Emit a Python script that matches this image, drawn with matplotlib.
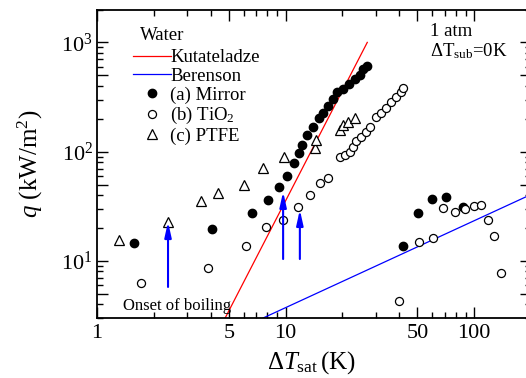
import matplotlib
matplotlib.use("Agg")
import matplotlib.pyplot as plt
from matplotlib.ticker import FixedLocator, FixedFormatter, LogLocator, NullFormatter

plt.rcParams['font.family'] = ['Liberation Serif', 'DejaVu Serif']
plt.rcParams['mathtext.fontset'] = 'custom'
plt.rcParams['mathtext.rm'] = 'Liberation Serif'
plt.rcParams['mathtext.it'] = 'Liberation Serif:italic'
plt.rcParams['mathtext.bf'] = 'Liberation Serif:bold'

# ---- data ----
mirror_dT = [1.57, 4.07, 6.64, 8.08, 9.24, 10.2, 11.1, 11.8, 12.2, 13.0, 14.0, 15.1, 15.8,
             16.8, 17.9, 18.8, 20.2, 21.7, 23.4, 24.9, 25.8, 27.1,
             42.0, 50.5, 59.8, 71.0, 87.5]
mirror_q = [14.6, 19.7, 27.5, 36.3, 47.7, 60.3, 79.0, 98.0, 116, 143, 169, 205, 228,
            264, 306, 348, 371, 412, 458, 508, 565, 603,
            13.7, 27.5, 37.0, 38.6, 31.3]

tio2_dT = [1.71, 3.88, 6.17, 7.88, 9.7, 11.65, 13.5, 15.2, 16.8, 19.5, 20.7, 22.0, 22.8,
           23.7, 25.2, 26.7, 28.1, 30.2, 32.1, 34.1, 36.3, 38.6, 41.0, 42.0,
           40.0, 51.0, 60.6, 68.5, 79.3, 89.6, 100, 108, 119, 128, 139]
tio2_q = [6.3, 8.6, 13.7, 20.5, 23.8, 31.3, 40.3, 52.0, 57.7, 90, 94, 100, 111,
          124, 137, 152, 169, 209, 228, 253, 282, 313, 348, 386,
          4.3, 14.9, 16.3, 30.6, 28.2, 30.0, 32.0, 32.7, 23.8, 16.9, 7.8]

ptfe_dT = [1.31, 2.38, 3.56, 4.38, 6.03, 7.6, 9.8, 14.3, 14.5, 19.5, 20.2, 21.5, 23.4]
ptfe_q = [15.6, 22.8, 35.5, 42.0, 49.8, 71.0, 90.0, 109, 129, 159, 177, 188, 205]

kut_dT = [4.78, 27.1]
kut_q = [3.0, 1000]

ber_dT = [7.6, 200]
ber_q = [3.0, 40.5]

# onset of boiling arrows: x, tail q, tip q
arrow_dT = [2.38, 9.7, 11.9]
arrow_q_tail = [5.77, 10.4, 10.4]
arrow_q_tip = [22.8, 43.0, 29.4]

xtick_vals = [1, 5, 10, 50, 100]
xtick_labels = ['1', '5', '10', '50', '100']
ytick_vals = [5, 10, 50, 100, 500, 1000]
ytick_labels = ['', '$10^1$', '', '$10^2$', '', '$10^3$']

W, H = 526, 378

def px(x, y):
    return (x / W, 1 - y / H)

# ---- figure ----
fig = plt.figure(figsize=(W / 100, H / 100), dpi=100)
ax = fig.add_axes([97 / W, 60 / H, 434 / W, 308.5 / H])
ax.set_xscale('log')
ax.set_yscale('log')
ax.set_xlim(1, 200)
ax.set_ylim(3, 2000)

ax.plot(kut_dT, kut_q, color='red', lw=0.9, label='Kutateladze')
ax.plot(ber_dT, ber_q, color='blue', lw=0.9, label='Berenson')
ax.plot(mirror_dT, mirror_q, 'o', ms=6.0, mfc='black', mec='black', label='(a) Mirror')
ax.plot(tio2_dT, tio2_q, 'o', ms=5.8, mfc='white', mec='black', mew=0.9, label='(b) TiO$_2$')
ax.plot(ptfe_dT, ptfe_q, '^', ms=7.2, mfc='white', mec='black', mew=0.9, label='(c) PTFE')

for xa, qt, qh in zip(arrow_dT, arrow_q_tail, arrow_q_tip):
    ax.annotate('', xy=(xa, qh), xytext=(xa, qt),
                arrowprops=dict(arrowstyle='-|>,head_length=0.9,head_width=0.2',
                                color='blue', lw=1.5, shrinkA=0, shrinkB=0))

fig.text(*px(123, 306), 'Onset of boiling', fontsize=12, ha='left', va='center')
fig.text(*px(430, 31), '1 atm', fontsize=13.5, ha='left', va='center')
fig.text(*px(430, 51), 'ΔT$_{\\rm sub}$=0K', fontsize=13.5, ha='left', va='center')
fig.text(*px(140, 35), 'Water', fontsize=13.5, ha='left', va='center')

ax.xaxis.set_major_locator(FixedLocator(xtick_vals))
ax.xaxis.set_major_formatter(FixedFormatter(xtick_labels))
ax.xaxis.set_minor_locator(LogLocator(base=10, subs=(2, 3, 4, 6, 7, 8, 9)))
ax.xaxis.set_minor_formatter(NullFormatter())
ax.yaxis.set_major_locator(FixedLocator(ytick_vals))
ax.yaxis.set_major_formatter(FixedFormatter(ytick_labels))
ax.yaxis.set_minor_locator(LogLocator(base=10, subs=(2, 3, 4, 6, 7, 8, 9)))
ax.yaxis.set_minor_formatter(NullFormatter())

ax.tick_params(which='both', direction='in', top=True, right=True, width=1.0)
ax.tick_params(which='major', length=8)
ax.tick_params(which='minor', length=4.5)
ax.tick_params(axis='x', labelsize=16, pad=4)
ax.tick_params(axis='y', labelsize=16, pad=3)
for s in ax.spines.values():
    s.set_linewidth(1.3)

ax.set_xlabel('$\\Delta T_{\\rm sat}\\,$(K)', fontsize=18)
ax.set_ylabel('$q$ (kW/m$^2$)', fontsize=18)
ax.xaxis.set_label_coords((311 - 97) / 434, -(363 - 318) / 308.5)
ax.yaxis.set_label_coords(-(97 - 30) / 434, 0.5)
ax.xaxis.label.set_va('center')
ax.yaxis.label.set_va('center')

leg = ax.legend(loc='upper left', bbox_to_anchor=px(133, 49),
                bbox_transform=fig.transFigure, frameon=False, fontsize=13.5,
                handlelength=2.0, handletextpad=0.0,
                labelspacing=0.08, borderpad=0, borderaxespad=0, numpoints=1)

fig.savefig('out.png', dpi=100)
